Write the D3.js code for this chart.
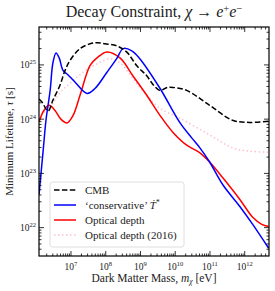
<!DOCTYPE html>
<html>
<head>
<meta charset="utf-8">
<script src="https://cdn.jsdelivr.net/npm/d3@7"></script>
<style>
  body { margin: 0; background: #fff; }
  text { font-family: "Liberation Serif", "DejaVu Serif", serif; fill: #222; }
</style>
</head>
<body>
<div id="chart"></div>
<script>
// values, stored as log10(mass / eV) and log10(lifetime / s)
var cmbMass = [6.08, 6.17, 6.34, 6.48, 6.68, 6.83, 6.97, 7.26, 7.55, 7.75, 7.98, 8.32, 8.6, 8.9, 9.18, 9.36, 9.56, 9.75, 9.93, 10.33, 10.99, 11.65, 12.14, 12.69];
var cmbLife = [24.37, 24.31, 24.15, 24.35, 24.62, 24.9, 25.08, 25.3, 25.39, 25.41, 25.39, 25.35, 25.24, 24.98, 24.8, 24.64, 24.53, 24.58, 24.585, 24.53, 24.255, 23.98, 23.94, 23.96];

var blueMass = [6.08, 6.2, 6.28, 6.4, 6.48, 6.57, 6.66, 6.77, 6.91, 7.12, 7.46, 7.69, 8.03, 8.32, 8.5, 8.75, 8.98, 9.56, 10.13, 10.48, 10.71, 10.99, 11.37, 11.86, 12.23, 12.69];
var blueLife = [22.61, 23.43, 23.98, 24.53, 25.04, 25.22, 25.13, 24.9, 24.82, 24.68, 24.475, 24.565, 24.86, 25.12, 25.3, 25.26, 25.115, 24.57, 23.94, 23.65, 23.47, 23.21, 22.79, 22.39, 22.06, 21.62];

var redMass = [6.08, 6.22, 6.37, 6.54, 6.71, 6.885, 7.06, 7.26, 7.55, 7.75, 8.03, 8.41, 8.78, 9.18, 9.56, 9.93, 10.33, 10.71, 10.99, 11.37, 11.86, 12.23, 12.49, 12.69];
var redLife = [23.95, 24.16, 24.255, 24.16, 24.0, 23.93, 24.07, 24.44, 24.99, 25.13, 25.24, 25.13, 24.8, 24.44, 24.07, 23.76, 23.52, 23.38, 23.21, 22.92, 22.52, 22.19, 22.06, 22.02];

var pinkMass = [6.22, 6.34, 6.54, 6.74, 6.97, 7.34, 7.75, 8.12, 8.41, 8.78, 9.18, 9.56, 10.13, 10.99, 11.65, 12.14, 12.69];
var pinkLife = [24.13, 24.16, 24.35, 24.53, 24.66, 24.86, 25.02, 25.115, 25.04, 24.75, 24.44, 24.2, 24.02, 23.71, 23.47, 23.41, 23.39];

var xTickExp = [7, 8, 9, 10, 11, 12];
var yTickExp = [22, 23, 24, 25];
var legendNames = ["CMB", "conservative", "Optical depth", "Optical depth (2016)"];

var width = 275, height = 291;
var margin = { top: 27, right: 6, bottom: 35, left: 39 };
var plotW = width - margin.left - margin.right;
var plotH = height - margin.top - margin.bottom;

var svg = d3.select("#chart").append("svg")
  .attr("width", width)
  .attr("height", height);

var x = d3.scaleLog().domain([1.2e6, 5e12]).range([0, plotW]);
var y = d3.scaleLog().domain([3e21, 5e25]).range([plotH, 0]);

var g = svg.append("g").attr("transform", `translate(${margin.left},${margin.top})`);

g.append("clipPath").attr("id", "clip")
  .append("rect").attr("width", plotW).attr("height", plotH);

function series(ms, ls) {
  return ms.map((m, i) => [Math.pow(10, m), Math.pow(10, ls[i])]);
}

var line = d3.line()
  .x(d => x(d[0]))
  .y(d => y(d[1]))
  .curve(d3.curveCatmullRom.alpha(0.5));

var curves = [
  { data: series(pinkMass, pinkLife), color: "#ffc0cb", dash: "1.5,2.5" },
  { data: series(redMass, redLife), color: "#ff0000", dash: null },
  { data: series(blueMass, blueLife), color: "#0000ff", dash: null },
  { data: series(cmbMass, cmbLife), color: "#000000", dash: "5.5,2.4" }
];

var plot = g.append("g").attr("clip-path", "url(#clip)");
curves.forEach(function(c) {
  plot.append("path")
    .datum(c.data)
    .attr("d", line)
    .attr("fill", "none")
    .attr("stroke", c.color)
    .attr("stroke-width", 1.5)
    .attr("stroke-dasharray", c.dash);
});

// ticks, inward on all four sides
var xMinor = [], yMinor = [];
for (var e = 6; e <= 12; e++) {
  for (var k = 2; k <= 9; k++) {
    var v = k * Math.pow(10, e);
    if (v > x.domain()[0] && v < x.domain()[1]) xMinor.push(v);
  }
}
for (var e2 = 21; e2 <= 25; e2++) {
  for (var k2 = 2; k2 <= 9; k2++) {
    var v2 = k2 * Math.pow(10, e2);
    if (v2 > y.domain()[0] && v2 < y.domain()[1]) yMinor.push(v2);
  }
}
var xMajor = xTickExp.map(e => Math.pow(10, e));
var yMajor = yTickExp.map(e => Math.pow(10, e));

var ticks = g.append("g").attr("stroke", "#000").attr("stroke-width", 0.8);
function xt(vals, len) {
  vals.forEach(function(v) {
    var px = x(v);
    ticks.append("line").attr("x1", px).attr("x2", px).attr("y1", plotH).attr("y2", plotH - len);
    ticks.append("line").attr("x1", px).attr("x2", px).attr("y1", 0).attr("y2", len);
  });
}
function yt(vals, len) {
  vals.forEach(function(v) {
    var py = y(v);
    ticks.append("line").attr("x1", 0).attr("x2", len).attr("y1", py).attr("y2", py);
    ticks.append("line").attr("x1", plotW).attr("x2", plotW - len).attr("y1", py).attr("y2", py);
  });
}
xt(xMajor, 5); xt(xMinor, 2.5);
yt(yMajor, 5); yt(yMinor, 2.5);

g.append("rect").attr("width", plotW).attr("height", plotH)
  .attr("fill", "none").attr("stroke", "#000").attr("stroke-width", 1.2);

// tick labels
xTickExp.forEach(function(e) {
  var t = g.append("text")
    .attr("x", x(Math.pow(10, e)))
    .attr("y", plotH + 14)
    .attr("text-anchor", "middle")
    .style("font-size", "9.5px");
  t.append("tspan").text("10");
  t.append("tspan").attr("dy", -4).style("font-size", "6.5px").text(e);
});
yTickExp.forEach(function(e) {
  var t = g.append("text")
    .attr("x", -3)
    .attr("y", y(Math.pow(10, e)) + 3.5)
    .attr("text-anchor", "end")
    .style("font-size", "9.5px");
  t.append("tspan").text("10");
  t.append("tspan").attr("dy", -4).style("font-size", "6.5px").text(e);
});

// axis labels
var xl = svg.append("text")
  .attr("x", margin.left + plotW / 2)
  .attr("y", 282)
  .attr("text-anchor", "middle")
  .style("font-size", "11.5px");
xl.append("tspan").text("Dark Matter Mass, ");
xl.append("tspan").style("font-style", "italic").text("m");
xl.append("tspan").attr("dy", 2).style("font-style", "italic").style("font-size", "7.5px").text("χ");
xl.append("tspan").attr("dy", -2).text(" [eV]");

var yl = svg.append("text")
  .attr("transform", `translate(13, ${margin.top + plotH / 2}) rotate(-90)`)
  .attr("text-anchor", "middle")
  .style("font-size", "11px");
yl.append("tspan").text("Minimum Lifetime, ");
yl.append("tspan").style("font-style", "italic").text("τ");
yl.append("tspan").text(" [s]");

// title
var title = svg.append("text")
  .attr("x", margin.left + plotW / 2)
  .attr("y", 17)
  .attr("text-anchor", "middle")
  .style("font-size", "16px");
title.append("tspan").text("Decay Constraint, ");
title.append("tspan").style("font-style", "italic").text("χ");
title.append("tspan").text(" → ");
title.append("tspan").style("font-style", "italic").text("e");
title.append("tspan").attr("dy", -5).style("font-size", "10.5px").text("+");
title.append("tspan").attr("dy", 5).style("font-style", "italic").text("e");
title.append("tspan").attr("dy", -5).style("font-size", "10.5px").text("−");

// legend
var lg = svg.append("g").attr("transform", "translate(50,182)");
lg.append("rect").attr("width", 134).attr("height", 65).attr("rx", 2.5)
  .attr("fill", "#fff").attr("fill-opacity", 0.8)
  .attr("stroke", "#d6d6d6").attr("stroke-width", 0.8);
var legendCurves = [curves[3], curves[2], curves[1], curves[0]];
legendNames.forEach(function(name, i) {
  var ly = 8 + i * 15;
  var c = legendCurves[i];
  lg.append("line").attr("x1", 4).attr("x2", 26).attr("y1", ly).attr("y2", ly)
    .attr("stroke", c.color).attr("stroke-width", 1.5).attr("stroke-dasharray", c.dash);
  var t = lg.append("text").attr("x", 35).attr("y", ly + 3.8).style("font-size", "11px");
  if (name === "conservative") {
    t.append("tspan").text("‘conservative’ ");
    t.append("tspan").style("font-style", "italic").text("Ṫ");
    t.append("tspan").attr("dy", -4).style("font-size", "7.5px").text("*");
  } else {
    t.text(name);
  }
});
</script>
</body>
</html>
